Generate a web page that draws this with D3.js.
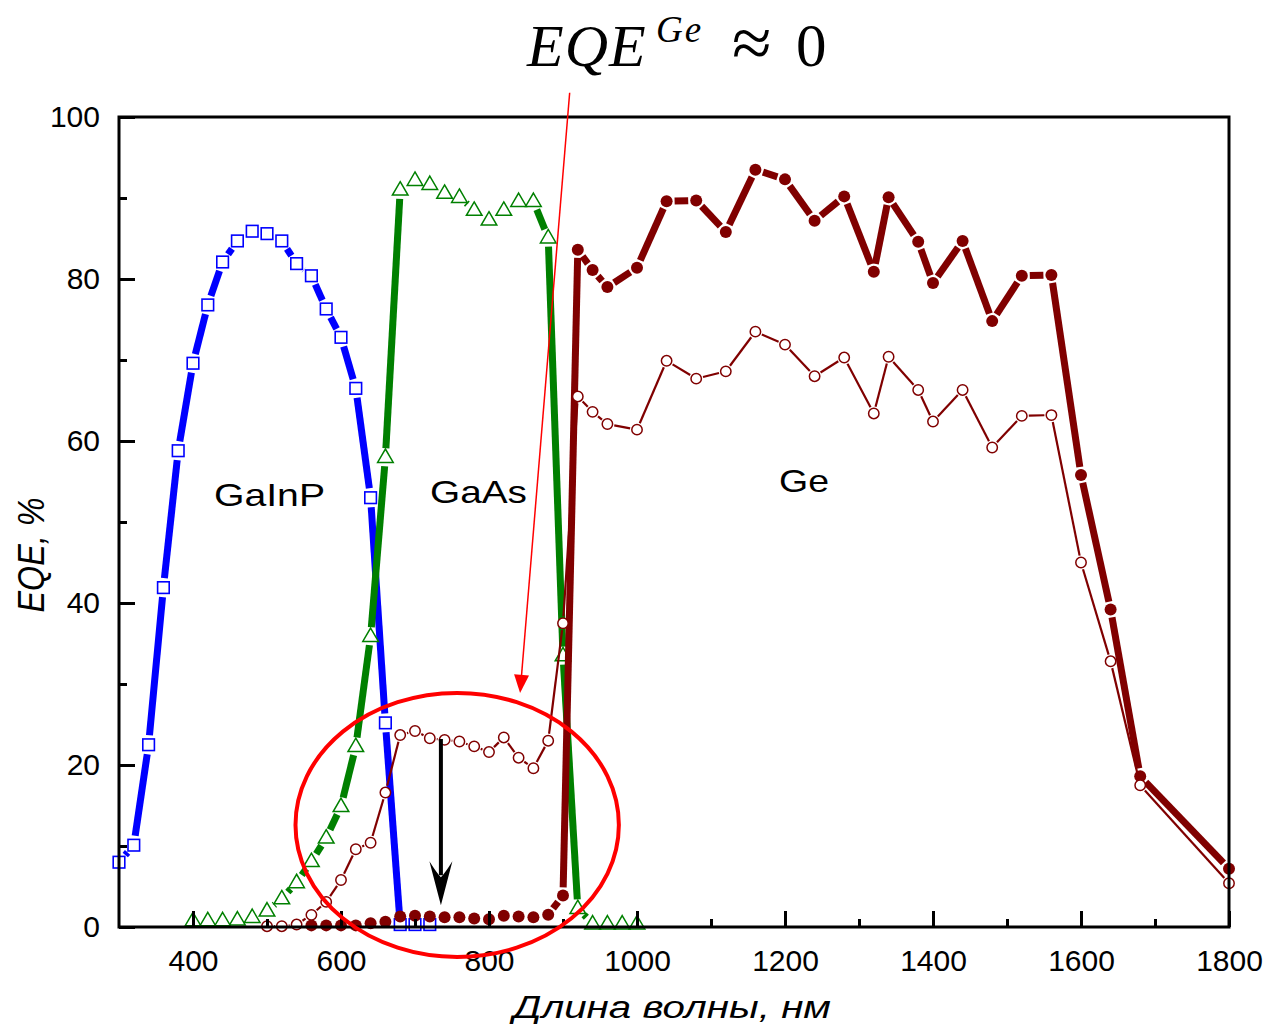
<!DOCTYPE html>
<html>
<head>
<meta charset="utf-8">
<script src="https://cdn.jsdelivr.net/npm/d3@7"></script>
<style>
  body { margin: 0; background: #fff; }
  svg { display: block; }
</style>
</head>
<body>
<script>
// ---- Data: external quantum efficiency of the three sub-cells, % ----
const gainpWl  = [300,320,340,360,380,400,420,440,460,480,500,520,540,560,580,600,620,640,660,680,700,720];
const gainpEqe = [8.0,10.1,22.5,41.9,58.8,69.6,76.8,82.1,84.7,85.9,85.6,84.7,81.9,80.4,76.3,72.8,66.5,53.0,25.2,0.3,0.3,0.3];

const gaasWl  = [400,420,440,460,480,500,520,540,560,580,600,620,640,660,680,700,720,740,760,780,800,820,840,860,880,900,920,940,960,980,1000];
const gaasEqe = [0.8,0.8,0.8,0.9,1.2,2.0,3.5,5.5,8.1,11.0,14.9,22.3,35.9,58.0,91.0,92.2,91.7,90.6,90.1,88.5,87.3,88.5,89.6,89.6,85.1,33.5,2.3,0.4,0.4,0.4,0.4];

// Ge sub-cell, measured under bias (thick) and without (thin)
const geThickWl  = [560,580,600,620,640,660,680,700,720,740,760,780,800,820,840,860,880,900,920,940,960,1000,1040,1080,1120,1160,1200,1240,1280,1320,1340,1380,1400,1440,1480,1520,1560,1600,1640,1680,1800];
const geThickEqe = [0.2,0.2,0.2,0.2,0.45,0.65,1.3,1.4,1.3,1.2,1.2,1.05,0.95,1.4,1.3,1.2,1.5,3.9,83.6,81.1,79.0,81.4,89.6,89.7,85.8,93.5,92.3,87.2,90.2,80.9,90.1,84.6,79.5,84.7,74.8,80.4,80.5,55.8,39.2,18.6,7.2];

const geThinWl  = [500,520,540,560,580,600,620,640,660,680,700,720,740,760,780,800,820,840,860,880,900,920,940,960,1000,1040,1080,1120,1160,1200,1240,1280,1320,1340,1380,1400,1440,1480,1520,1560,1600,1640,1680,1800];
const geThinEqe = [0.1,0.1,0.3,1.5,3.1,5.8,9.6,10.4,16.6,23.7,24.2,23.3,23.1,22.9,22.3,21.6,23.4,20.9,19.6,23.0,37.5,65.5,63.6,62.1,61.4,69.9,67.7,68.6,73.5,71.9,68.0,70.3,63.4,70.4,66.3,62.4,66.3,59.2,63.1,63.2,45.0,32.8,17.5,5.4];

const xMajorTicks = [400,600,800,1000,1200,1400,1600,1800];
const xMinorTicks = [500,700,900,1100,1300,1500,1700];
const yMajorTicks = [0,20,40,60,80,100];
const yMinorTicks = [10,30,50,70,90];

const regionLabels = ["GaInP", "GaAs", "Ge"];
const xTitle = "Длина волны, нм";
const yTitle = "EQE, %";

// ---- Layout ----
const W = 1268, H = 1024;
const svg = d3.select("body").append("svg").attr("width", W).attr("height", H);

const x = d3.scaleLinear().domain([300, 1800]).range([119, 1229]);
const y = d3.scaleLinear().domain([0, 100]).range([927, 117]);

const BLUE = "#0000ff", GREEN = "#008000", MAROON = "#800000", RED = "#ff0000";
const SANS = "'Liberation Sans', Arial, sans-serif";
const SERIF = "'Liberation Serif', 'Times New Roman', serif";

// Connecting line that breaks around each symbol
function gappedLine(g, xs, ys, gap, color, width) {
  const pts = xs.map((v, i) => [x(v), y(ys[i])]);
  const segs = d3.pairs(pts).map(([a, b]) => {
    const d = Math.hypot(b[0] - a[0], b[1] - a[1]);
    if (d <= 2 * gap) return null;
    const ux = (b[0] - a[0]) / d, uy = (b[1] - a[1]) / d;
    return [a[0] + ux * gap, a[1] + uy * gap, b[0] - ux * gap, b[1] - uy * gap];
  }).filter(Boolean);
  g.selectAll(null).data(segs).join("line")
    .attr("x1", s => s[0]).attr("y1", s => s[1])
    .attr("x2", s => s[2]).attr("y2", s => s[3])
    .attr("stroke", color).attr("stroke-width", width)
    .attr("stroke-linecap", "butt");
}

const plot = svg.append("g");

// GaInP top cell
const gGaInP = plot.append("g");
gappedLine(gGaInP, gainpWl, gainpEqe, 9.5, BLUE, 7);
gGaInP.selectAll("rect").data(gainpWl).join("rect")
  .attr("x", (d, i) => x(d) - 5.8).attr("y", (d, i) => y(gainpEqe[i]) - 5.8)
  .attr("width", 11.6).attr("height", 11.6)
  .attr("fill", "#fff").attr("stroke", BLUE).attr("stroke-width", 1.6);

// GaAs middle cell
const gGaAs = plot.append("g");
gappedLine(gGaAs, gaasWl, gaasEqe, 9, GREEN, 7);
const tri = "M0,-8.2 L7.8,5.2 L-7.8,5.2 Z";
gGaAs.selectAll("path").data(gaasWl).join("path")
  .attr("d", tri)
  .attr("transform", (d, i) => `translate(${x(d)},${y(gaasEqe[i])})`)
  .attr("fill", "#fff").attr("stroke", GREEN).attr("stroke-width", 1.5)
  .attr("stroke-linejoin", "miter");

// Ge bottom cell, thick curve with filled circles
const gGeThick = plot.append("g");
gappedLine(gGeThick, geThickWl, geThickEqe, 8, MAROON, 7);
gGeThick.selectAll("circle").data(geThickWl).join("circle")
  .attr("cx", d => x(d)).attr("cy", (d, i) => y(geThickEqe[i]))
  .attr("r", 6).attr("fill", MAROON);

// Ge bottom cell, thin curve with open circles
const gGeThin = plot.append("g");
gappedLine(gGeThin, geThinWl, geThinEqe, 7, MAROON, 2.2);
gGeThin.selectAll("circle").data(geThinWl).join("circle")
  .attr("cx", d => x(d)).attr("cy", (d, i) => y(geThinEqe[i]))
  .attr("r", 5.2).attr("fill", "#fff").attr("stroke", MAROON).attr("stroke-width", 1.5);

// ---- Axes and frame ----
function styleAxis(g) {
  g.select(".domain").remove();
  g.selectAll(".tick line").attr("stroke", "#000").attr("stroke-width", 3);
  g.selectAll(".tick text").attr("fill", "#000")
    .style("font-family", SANS).style("font-size", "30px");
}

svg.append("g").attr("transform", `translate(0,${y(0)})`)
  .call(d3.axisBottom(x).tickValues(xMajorTicks).tickSize(-16).tickPadding(23).tickFormat(d3.format("d")))
  .call(styleAxis);
svg.append("g").attr("transform", `translate(0,${y(0)})`)
  .call(d3.axisBottom(x).tickValues(xMinorTicks).tickSize(-8).tickFormat(""))
  .call(styleAxis);
svg.append("g").attr("transform", `translate(${x(300)},0)`)
  .call(d3.axisLeft(y).tickValues(yMajorTicks).tickSize(-16).tickPadding(19).tickFormat(d3.format("d")))
  .call(styleAxis);
svg.append("g").attr("transform", `translate(${x(300)},0)`)
  .call(d3.axisLeft(y).tickValues(yMinorTicks).tickSize(-8).tickFormat(""))
  .call(styleAxis);

svg.append("rect")
  .attr("x", x(300)).attr("y", y(100))
  .attr("width", x(1800) - x(300)).attr("height", y(0) - y(100))
  .attr("fill", "none").attr("stroke", "#000").attr("stroke-width", 3);

// ---- Axis titles ----
svg.append("text")
  .attr("x", 672).attr("y", 1018)
  .attr("text-anchor", "middle")
  .attr("textLength", 318).attr("lengthAdjust", "spacingAndGlyphs")
  .style("font-family", SANS).style("font-size", "31px").style("font-style", "italic")
  .text(xTitle);

svg.append("text")
  .attr("transform", "translate(44,555) rotate(-90)")
  .attr("text-anchor", "middle")
  .attr("textLength", 115).attr("lengthAdjust", "spacingAndGlyphs")
  .style("font-family", SANS).style("font-size", "36px").style("font-style", "italic")
  .text(yTitle);

// ---- Sub-cell names ----
const labelPos = [[214, 506, 111], [430, 503, 97], [779, 492, 50]];
svg.selectAll(".region").data(regionLabels).join("text")
  .attr("class", "region")
  .attr("x", (d, i) => labelPos[i][0]).attr("y", (d, i) => labelPos[i][1])
  .attr("textLength", (d, i) => labelPos[i][2]).attr("lengthAdjust", "spacingAndGlyphs")
  .style("font-family", SANS).style("font-size", "32px")
  .text(d => d);

// ---- Annotation: highlighted region, arrows and formula ----
const ann = svg.append("g");

// ellipse around the 560–900 nm window (data units)
const ell = { cx: 757, cy: 12.6, rx: 218.5, ry: 16.3 };
ann.append("ellipse")
  .attr("cx", x(ell.cx)).attr("cy", y(ell.cy))
  .attr("rx", x(ell.cx + ell.rx) - x(ell.cx)).attr("ry", y(ell.cy - ell.ry) - y(ell.cy))
  .attr("fill", "none").attr("stroke", RED).attr("stroke-width", 4);

// black arrow: from the unbiased Ge curve down to the biased one
const bx = x(735), by0 = y(23.2), by1 = y(2.7);
ann.append("line")
  .attr("x1", bx).attr("y1", by0).attr("x2", bx).attr("y2", by1 - 30)
  .attr("stroke", "#000").attr("stroke-width", 4);
ann.append("path")
  .attr("d", `M${bx},${by1} L${bx - 11.5},${by1 - 44} Q${bx - 4},${by1 - 32} ${bx},${by1 - 28} Q${bx + 4},${by1 - 32} ${bx + 11.5},${by1 - 44} Z`)
  .attr("fill", "#000");

// thin red pointer from the formula into the plot
const rx0 = x(909), ry0 = y(103), rx1 = x(842), ry1 = y(28.9);
const rl = Math.hypot(rx1 - rx0, ry1 - ry0);
const ux = (rx1 - rx0) / rl, uy = (ry1 - ry0) / rl;
const headL = 18, headW = 7.5;
ann.append("line")
  .attr("x1", rx0).attr("y1", ry0)
  .attr("x2", rx1 - ux * headL).attr("y2", ry1 - uy * headL)
  .attr("stroke", RED).attr("stroke-width", 1.5);
ann.append("path")
  .attr("d", `M${rx1},${ry1} L${rx1 - ux * headL - uy * headW},${ry1 - uy * headL + ux * headW} L${rx1 - ux * headL + uy * headW},${ry1 - uy * headL - ux * headW} Z`)
  .attr("fill", RED);

// formula EQE^Ge ≈ 0
const f = svg.append("g").style("font-family", SERIF).attr("fill", "#000");
f.append("text").attr("x", 527).attr("y", 66)
  .style("font-size", "60px").style("font-style", "italic").attr("letter-spacing", 1)
  .text("EQE");
f.append("text").attr("x", 656).attr("y", 42)
  .style("font-size", "37px").style("font-style", "italic").attr("letter-spacing", 2)
  .text("Ge");
f.append("text").attr("x", 732).attr("y", 67)
  .style("font-size", "72px")
  .text("≈");
f.append("text").attr("x", 796).attr("y", 66)
  .style("font-size", "61px")
  .text("0");
</script>
</body>
</html>
